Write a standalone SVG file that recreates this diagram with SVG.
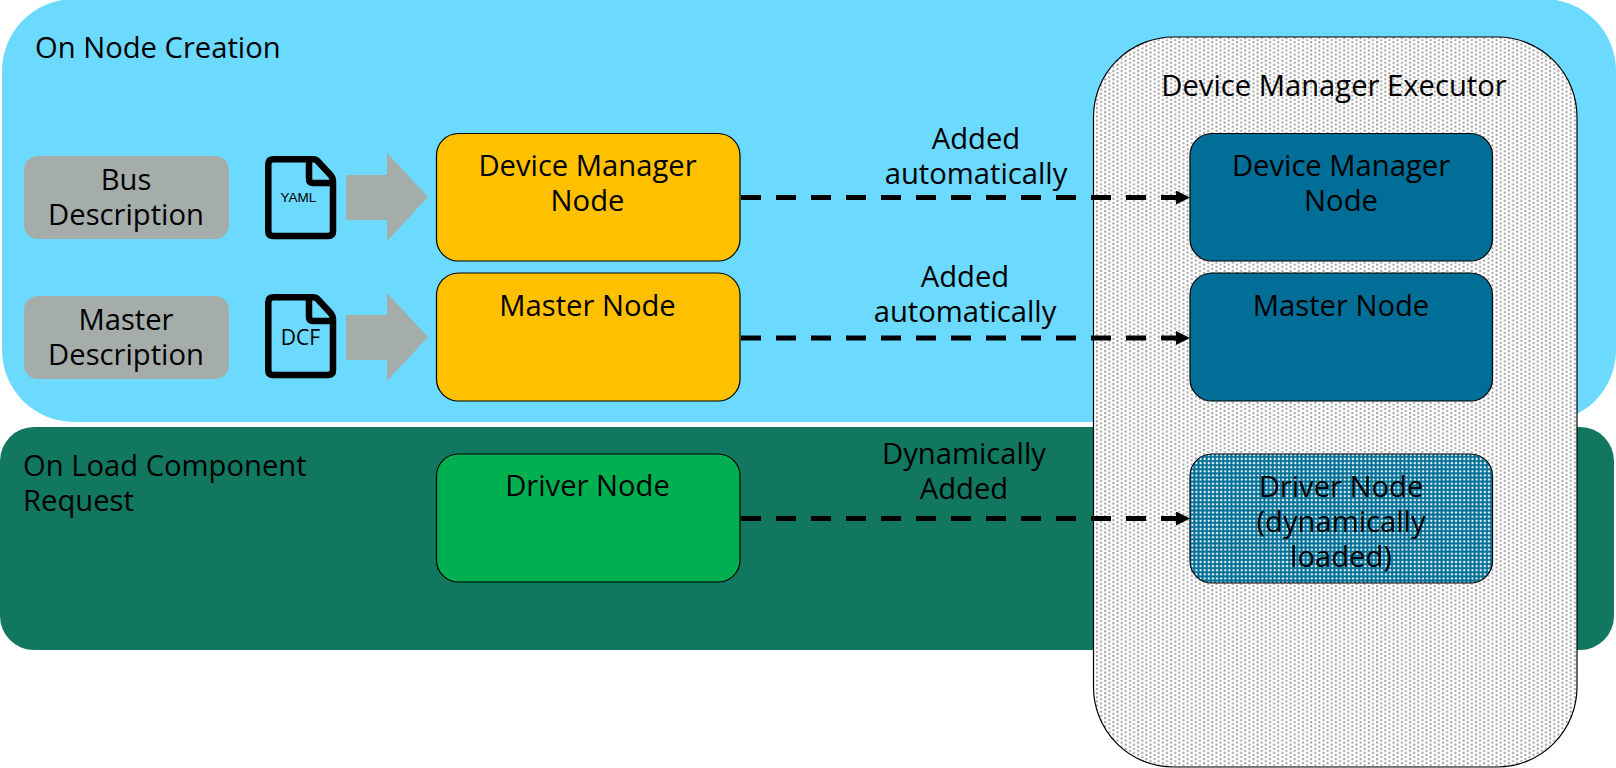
<svg xmlns="http://www.w3.org/2000/svg" width="1616" height="768" viewBox="0 0 1616 768">
<style>
text{font-family:"Open Sans","Noto Sans","DejaVu Sans",sans-serif;font-size:29.2px;fill:#000;text-anchor:middle}
.l{text-anchor:start}
.n{stroke:#000;stroke-width:1.2}
.g{fill:#a5adab}
.fold{fill:none;stroke:#000;stroke-width:6.5;stroke-linejoin:round}
.c{fill:none;stroke:#000;stroke-width:5;stroke-dasharray:20 15}
</style>
<defs>
<pattern id="dots" width="8.24" height="4.12" patternUnits="userSpaceOnUse"><rect width="8.24" height="4.12" fill="#fff"/><rect x="0" y="0" width="2" height="2" fill="#a0a0a0"/><rect x="4.12" y="2.06" width="2" height="2" fill="#a0a0a0"/></pattern>
<pattern id="check" width="4.12" height="4.12" patternUnits="userSpaceOnUse"><rect width="4.12" height="4.12" fill="#006e96"/><rect x="0.6" y="0.6" width="2.100" height="2.100" fill="#f4fafc"/></pattern>
<marker id="a" markerUnits="userSpaceOnUse" markerWidth="16" markerHeight="16" refX="6" refY="7" orient="auto"><path d="M0 0L14 7L0 14Z"/></marker>
</defs>
<g id="creation"><rect x="2" y="-1" width="1614" height="423" rx="72" fill="#6cd9ff"/><text class="l" x="35" y="58.200">On Node Creation</text></g>
<g id="load"><rect x="0" y="427" width="1614" height="223" rx="34" fill="#12775f"/><text class="l" x="23" y="476"><tspan x="23">On Load Component</tspan><tspan x="23" dy="34.500">Request</tspan></text></g>
<g id="executor"><rect class="n" x="1093.500" y="37" width="483.500" height="730" rx="80" fill="url(#dots)"/><text x="1334" y="96.200">Device Manager Executor</text></g>
<g id="bus"><rect x="24" y="156" width="205" height="83" rx="14" class="g"/><text x="126" y="190.200"><tspan x="126">Bus</tspan><tspan x="126" dy="34.800">Description</tspan></text></g>
<g id="master-desc"><rect x="24" y="296" width="205" height="83" rx="14" class="g"/><text x="126" y="330.200"><tspan x="126">Master</tspan><tspan x="126" dy="34.800">Description</tspan></text></g>
<g id="yaml"><path class="fold" d="M274 159.300H313Q316 159.300 318 161.500L331 175.500Q333 178 333 181V231Q333 236 328 236H273Q268.300 236 268.300 231V164Q268.300 159.300 274 159.300Z"/><path class="fold" d="M309 159.300V179Q309 183 313 183H333"/><text x="298.500" y="202" style="font-size:13.500px;font-family:'Liberation Sans',sans-serif">YAML</text></g>
<g id="dcf"><path class="fold" d="M274 297.300H313Q316 297.300 318 299.500L331 313.500Q333 316 333 319V370Q333 375 328 375H273Q268.300 375 268.300 370V302Q268.300 297.300 274 297.300Z"/><path class="fold" d="M309 297.300V317Q309 321 313 321H333"/><text x="300.500" y="345" style="font-size:21px">DCF</text></g>
<g id="arrow1"><path class="g" d="M346 175H387V153L428 197L387 241V220H346Z"/></g>
<g id="arrow2"><path class="g" d="M346 315H387V293L428 337L387 381V360H346Z"/></g>
<g id="dm"><rect class="n" x="436.500" y="133.500" width="303.500" height="127.500" rx="22" fill="#ffc000"/><text x="587.500" y="176.200"><tspan x="587.500">Device Manager</tspan><tspan x="587.500" dy="34.800">Node</tspan></text></g>
<g id="master"><rect class="n" x="436.500" y="273" width="303.500" height="128" rx="22" fill="#ffc000"/><text x="587.500" y="316.200">Master Node</text></g>
<g id="driver"><rect class="n" x="436.500" y="454" width="303.500" height="128" rx="22" fill="#00b050"/><text x="587.500" y="496.200">Driver Node</text></g>
<g id="dm2"><rect class="n" x="1190" y="133.500" width="302.500" height="127.500" rx="22" fill="#006e96"/><text x="1341" y="176.200"><tspan x="1341">Device Manager</tspan><tspan x="1341" dy="34.800">Node</tspan></text></g>
<g id="master2"><rect class="n" x="1190" y="273" width="302.500" height="128" rx="22" fill="#006e96"/><text x="1341" y="316.200">Master Node</text></g>
<g id="driver2"><rect class="n" x="1190" y="454" width="302.500" height="129" rx="22" fill="url(#check)"/><text x="1341" y="497"><tspan x="1341">Driver Node</tspan><tspan x="1341" dy="34.800">(dynamically</tspan><tspan x="1341" dy="34.800">loaded)</tspan></text></g>
<g id="connectors">
<path class="c" marker-end="url(#a)" d="M741 197.500H1182"/>
<path class="c" marker-end="url(#a)" d="M741 338H1182"/>
<path class="c" marker-end="url(#a)" d="M741 518.500H1182"/>
</g>
<g id="labels"><text x="976" y="149.200"><tspan x="976">Added</tspan><tspan x="976" dy="34.800">automatically</tspan></text><text x="965" y="287.200"><tspan x="965">Added</tspan><tspan x="965" dy="34.800">automatically</tspan></text><text x="964" y="464.200"><tspan x="964">Dynamically</tspan><tspan x="964" dy="34.800">Added</tspan></text></g>
</svg>
